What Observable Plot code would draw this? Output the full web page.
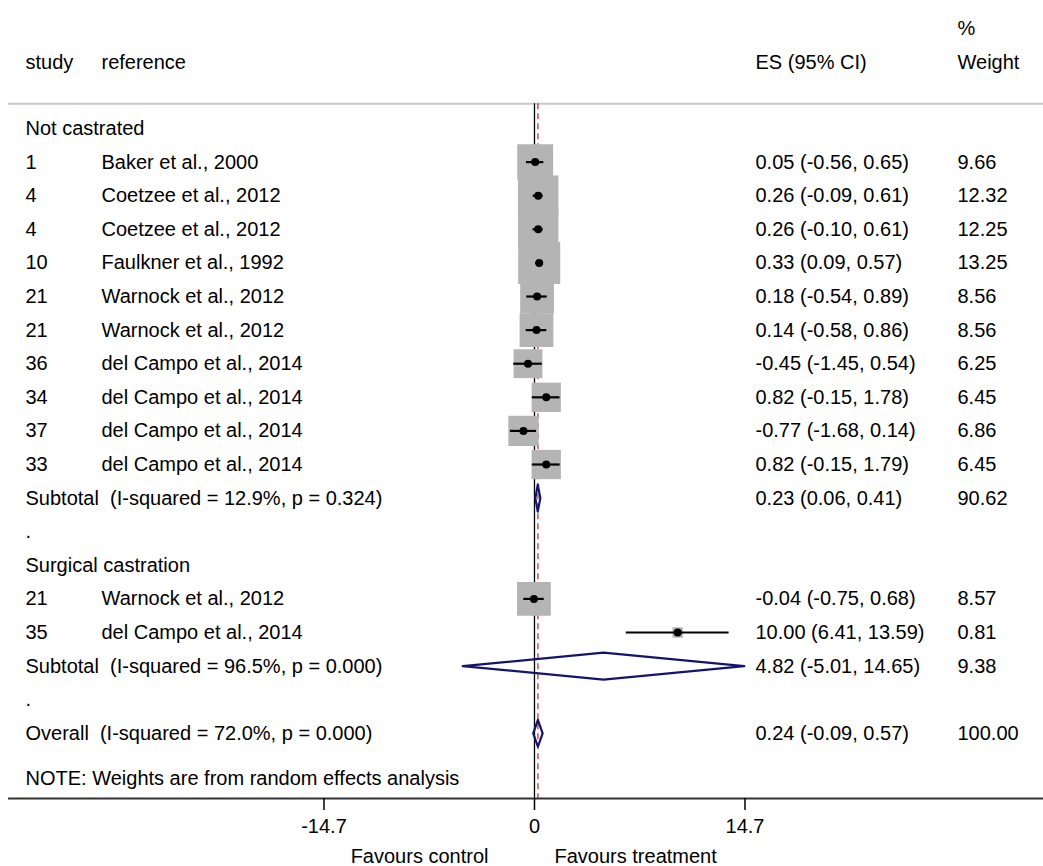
<!DOCTYPE html>
<html><head><meta charset="utf-8">
<script src="https://cdn.jsdelivr.net/npm/d3@7"></script>
<script src="https://cdn.jsdelivr.net/npm/@observablehq/plot@0.6"></script>
<style>body{margin:0;background:#fff}</style>
</head><body><div id="chart"></div>
<script>
// ---- data ----
const groupNames = ["Not castrated", "Surgical castration"];
const studyIds = ["1","4","4","10","21","21","36","34","37","33","21","35"];
const references = ["Baker et al., 2000","Coetzee et al., 2012","Coetzee et al., 2012","Faulkner et al., 1992",
  "Warnock et al., 2012","Warnock et al., 2012","del Campo et al., 2014","del Campo et al., 2014",
  "del Campo et al., 2014","del Campo et al., 2014","Warnock et al., 2012","del Campo et al., 2014"];
const studyGroup = [0,0,0,0,0,0,0,0,0,0,1,1];
const esValues = [0.05,0.26,0.26,0.33,0.18,0.14,-0.45,0.82,-0.77,0.82,-0.04,10.00];
const ciLow    = [-0.56,-0.09,-0.10,0.09,-0.54,-0.58,-1.45,-0.15,-1.68,-0.15,-0.75,6.41];
const ciHigh   = [0.65,0.61,0.61,0.57,0.89,0.86,0.54,1.78,0.14,1.79,0.68,13.59];
const weights  = [9.66,12.32,12.25,13.25,8.56,8.56,6.25,6.45,6.86,6.45,8.57,0.81];

const subtotalLabels = ["Subtotal  (I-squared = 12.9%, p = 0.324)", "Subtotal  (I-squared = 96.5%, p = 0.000)"];
const subtotalES = [0.23, 4.82];
const subtotalLow = [0.06, -5.01];
const subtotalHigh = [0.41, 14.65];
const subtotalWeight = [90.62, 9.38];

const overallLabel = "Overall  (I-squared = 72.0%, p = 0.000)";
const overallES = 0.24, overallLow = -0.09, overallHigh = 0.57, overallWeight = 100.00;

const noteText = "NOTE: Weights are from random effects analysis";
const headerLabels = {study: "study", ref: "reference", es: "ES (95% CI)", w: "Weight"};
const tickValues = [-14.7, 0, 14.7];
const favourLabels = ["Favours control", "Favours treatment"];

// ---- layout ----
const colDx = {study: 17, ref: 93, es: 747, w: 949};
const fmt = v => v.toFixed(2);
const ciText = (e, l, h) => `${fmt(e)} (${fmt(l)}, ${fmt(h)})`;

const studies = [], summaries = [], texts = [];
let r = 0;
groupNames.forEach((g, gi) => {
  texts.push({row: r, col: "study", text: g}); r++;
  studyIds.forEach((id, i) => {
    if (studyGroup[i] !== gi) return;
    studies.push({row: r, es: esValues[i], lo: ciLow[i], hi: ciHigh[i], w: weights[i]});
    texts.push({row: r, col: "study", text: id});
    texts.push({row: r, col: "ref", text: references[i]});
    texts.push({row: r, col: "es", text: ciText(esValues[i], ciLow[i], ciHigh[i])});
    texts.push({row: r, col: "w", text: fmt(weights[i])});
    r++;
  });
  summaries.push({row: r, es: subtotalES[gi], lo: subtotalLow[gi], hi: subtotalHigh[gi], k: "s" + gi});
  texts.push({row: r, col: "study", text: subtotalLabels[gi]});
  texts.push({row: r, col: "es", text: ciText(subtotalES[gi], subtotalLow[gi], subtotalHigh[gi])});
  texts.push({row: r, col: "w", text: fmt(subtotalWeight[gi])});
  r++;
  texts.push({row: r, col: "study", text: "."}); r++;
});
summaries.push({row: r, es: overallES, lo: overallLow, hi: overallHigh, k: "overall"});
texts.push({row: r, col: "study", text: overallLabel});
texts.push({row: r, col: "es", text: ciText(overallES, overallLow, overallHigh)});
texts.push({row: r, col: "w", text: fmt(overallWeight)});
texts.push({row: r + 1.35, col: "study", text: noteText});

const headerRow = -1.96, pctRow = -2.98, topLineRow = -0.74, bottomRow = 19.94;
for (const c of ["study","ref","es","w"]) texts.push({row: headerRow, col: c, text: headerLabels[c]});
texts.push({row: pctRow, col: "w", text: "%"});

const half = 0.4;
const diamondPts = summaries.flatMap(s => [
  {x: s.lo, y: s.row, k: s.k}, {x: s.es, y: s.row - half, k: s.k},
  {x: s.hi, y: s.row, k: s.k}, {x: s.es, y: s.row + half, k: s.k}
]);

const navy = "#14146e";
const font = "'Liberation Sans', Arial, sans-serif";

const chart = Plot.plot({
  width: 1043, height: 866,
  marginLeft: 8, marginRight: 0, marginTop: 0, marginBottom: 68,
  style: {fontFamily: font, fontSize: "20px", background: "#fff", color: "#000"},
  x: {domain: [-36.73, 35.545], axis: null},
  y: {domain: [-3.81, bottomRow], reverse: true, axis: null},
  r: {type: "sqrt", domain: [0, 13.25], range: [0, 23.7]},
  marks: [
    Plot.ruleY([topLineRow], {stroke: "#c8c8c8", strokeWidth: 2}),
    Plot.ruleX([0], {y1: topLineRow, y2: bottomRow, stroke: "#000", strokeWidth: 1.3}),
    Plot.ruleX([overallES], {y1: topLineRow, y2: bottomRow, stroke: "#c0392b", strokeWidth: 1.3, strokeDasharray: "6,4"}),
    Plot.dot(studies, {x: "es", y: "row", r: "w", symbol: "square", fill: "#b4b4b4", stroke: "none"}),
    Plot.ruleY(studies, {y: "row", x1: "lo", x2: "hi", stroke: "#000", strokeWidth: 2.2}),
    Plot.dot(studies, {x: "es", y: "row", r: 4, symbol: "circle", fill: "#000", stroke: "none"}),
    Plot.line(diamondPts, {x: "x", y: "y", z: "k", curve: "linear-closed", stroke: navy, strokeWidth: 2.2, fill: "none"}),
    ...["study","ref","es","w"].map(c => Plot.text(texts.filter(t => t.col === c), {
      y: "row", text: "text", frameAnchor: "left", textAnchor: "start", dx: colDx[c], fill: "#000"})),
    Plot.ruleY([bottomRow], {stroke: "#333", strokeWidth: 2}),
    Plot.axisX({ticks: tickValues, tickFormat: d => String(d), tickSize: 12, tickPadding: 8,
      strokeWidth: 1.5, fontSize: 20, anchor: "bottom", label: null}),
    Plot.text([favourLabels[0]], {x: 0, y: bottomRow + 1.72, text: d => d, textAnchor: "end", dx: -46}),
    Plot.text([favourLabels[1]], {x: 0, y: bottomRow + 1.72, text: d => d, textAnchor: "start", dx: 20})
  ]
});
document.getElementById("chart").appendChild(chart);
</script>
</body></html>
